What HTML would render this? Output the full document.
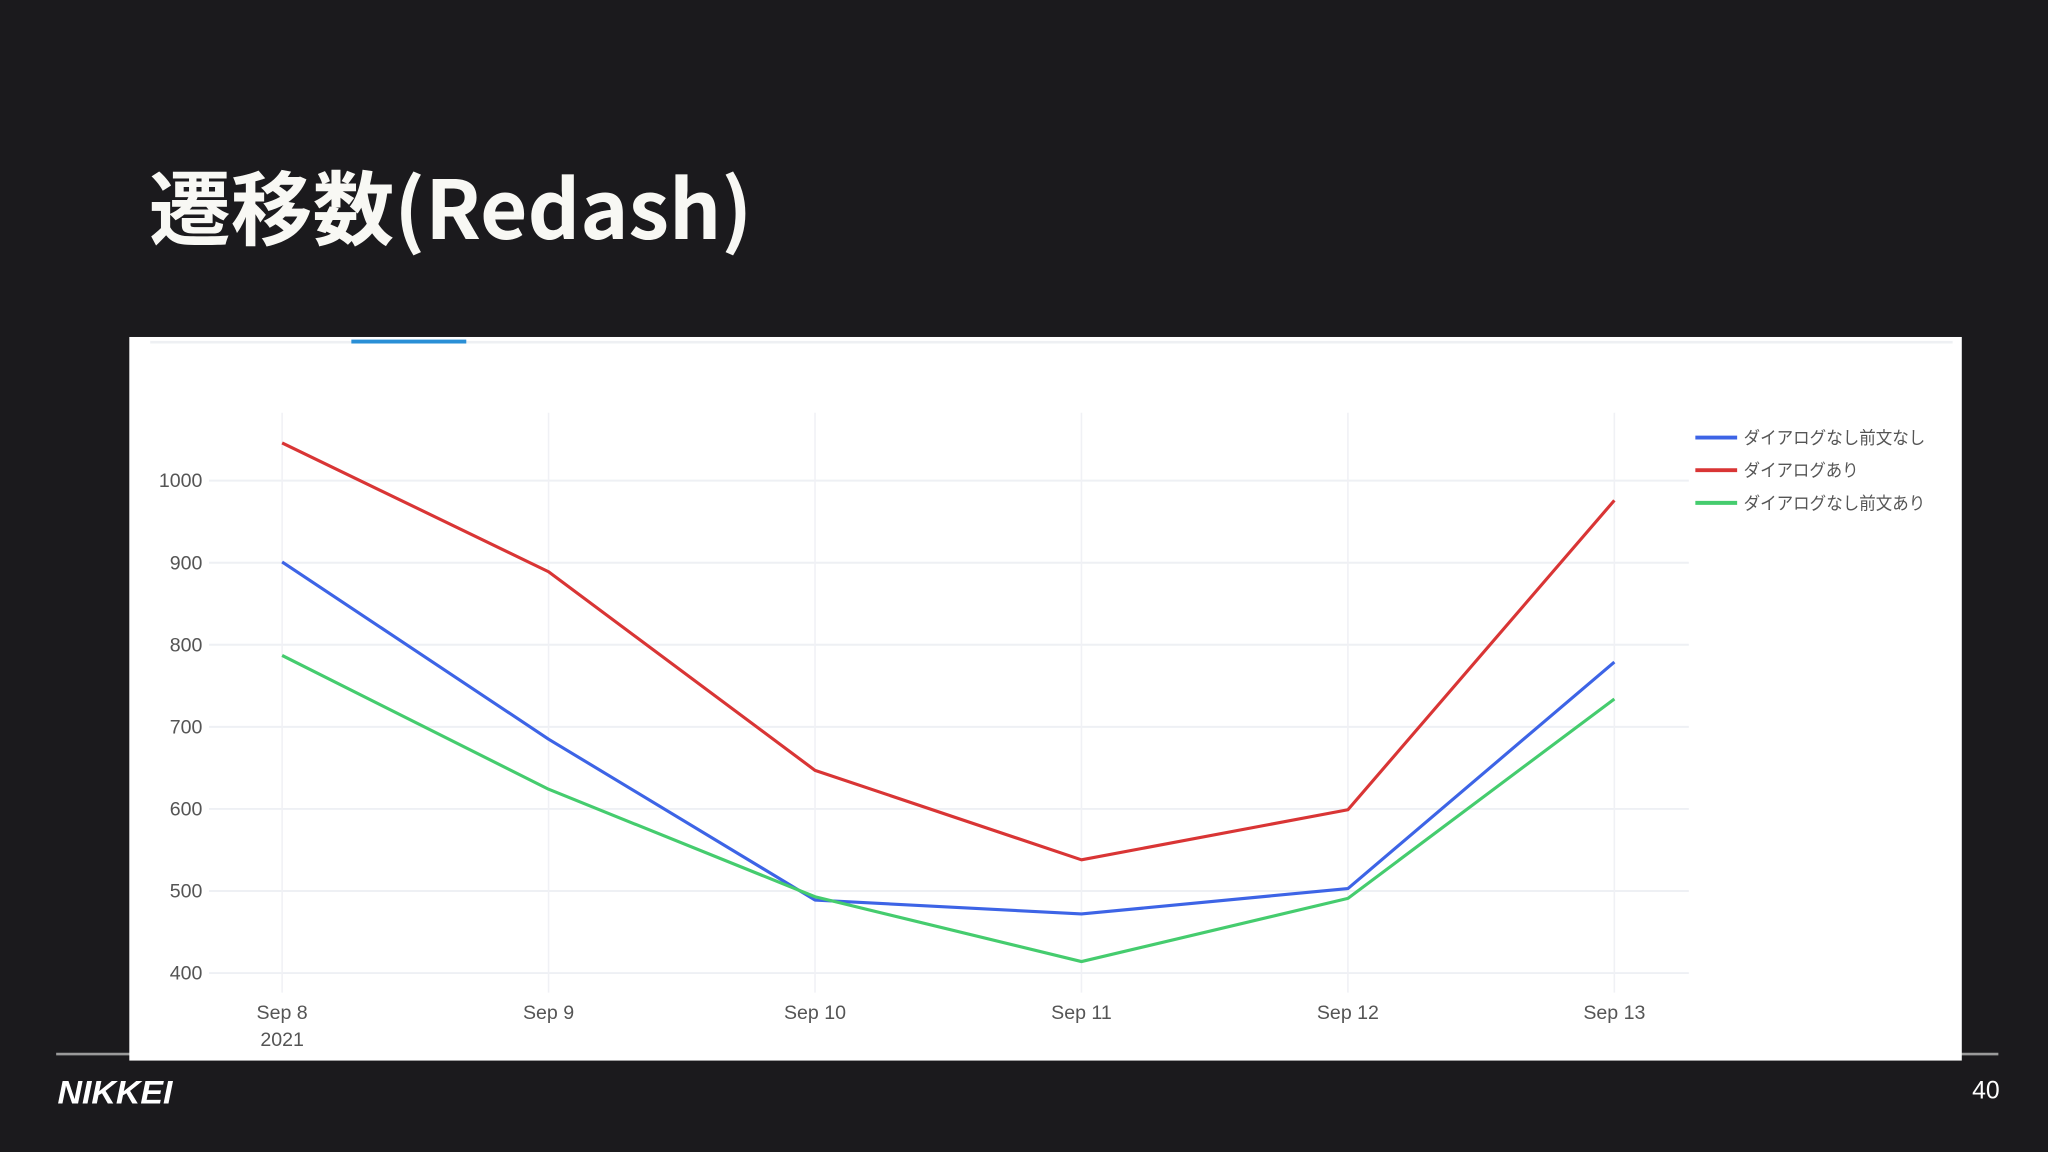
<!DOCTYPE html>
<html><head><meta charset="utf-8"><style>
html,body{margin:0;padding:0;background:#1b1a1d;}
svg{display:block;}
</style></head><body>
<svg id="page" width="2048" height="1152" viewBox="0 0 1568 882" xmlns="http://www.w3.org/2000/svg">
<rect x="0" y="0" width="1568" height="882" fill="#1b1a1d"/>
<text x="114" y="183" font-family="'Noto Sans CJK JP', sans-serif" font-weight="700" font-size="62" fill="#f8f8f4" textLength="462" lengthAdjust="spacingAndGlyphs">遷移数(Redash)</text>
<line x1="43" y1="807" x2="1530" y2="807" stroke="#9a9a9a" stroke-width="2"/>
<rect x="99" y="258" width="1403" height="554" fill="#ffffff"/>
<rect x="115" y="261" width="1380" height="2" fill="#eef0f3"/>
<rect x="269" y="260" width="88" height="3" fill="#2a8fd6"/>
<g id="grid"></g>
<g id="axes"></g>
<g id="series"></g>
<g id="legend"></g>
<text x="44" y="845" font-family="'Liberation Sans', sans-serif" font-weight="700" font-style="italic" font-size="25" fill="#ffffff" textLength="88" lengthAdjust="spacingAndGlyphs">NIKKEI</text>
<text x="1531" y="841" text-anchor="end" font-family="'Liberation Sans', sans-serif" font-size="19" fill="#ffffff">40</text>
</svg>
<script>
const categories = ['Sep 8','Sep 9','Sep 10','Sep 11','Sep 12','Sep 13'];
const yTicks = [400,500,600,700,800,900,1000];
const seriesNames = ['ダイアログなし前文なし','ダイアログあり','ダイアログなし前文あり'];
const seriesColors = ['#3d64e6','#d93535','#45cc6e'];
const blueValues = [901,685,489,472,503,779];
const redValues = [1046,889,647,538,599,976];
const greenValues = [787,624,493,414,491,734];

const NS='http://www.w3.org/2000/svg';
const X0=216, XSTEP=204, Y400=745, YPER=(745-368)/600;
function xPos(i){return X0+i*XSTEP;}
function yPos(v){return Y400-(v-400)*YPER;}
function mk(tag,attrs,parent){const e=document.createElementNS(NS,tag);for(const k in attrs)e.setAttribute(k,attrs[k]);parent.appendChild(e);return e;}
const grid=document.getElementById('grid'),axes=document.getElementById('axes'),ser=document.getElementById('series'),leg=document.getElementById('legend');
const font="'Liberation Sans', sans-serif";
yTicks.forEach(v=>{
  const l=mk('line',{x1:160,x2:1293,y1:yPos(v),y2:yPos(v),stroke:'#eef0f4','stroke-width':1.5},grid);
  
  
  const t=mk('text',{x:155,y:yPos(v)+5,'text-anchor':'end','font-family':font,'font-size':15,fill:'#555'},axes);
  t.textContent=v;
  
  
});
categories.forEach((c,i)=>{
  const l=mk('line',{x1:xPos(i),x2:xPos(i),y1:316,y2:760,stroke:'#f0f1f5','stroke-width':1.2},grid);
  
  
  const t=mk('text',{x:xPos(i),y:780,'text-anchor':'middle','font-family':font,'font-size':15,fill:'#555'},axes);
  t.textContent=c;
  
  
});
const yr=mk('text',{x:xPos(0),y:801,'text-anchor':'middle','font-family':font,'font-size':15,fill:'#555'},axes);
yr.textContent='2021';


const all=[blueValues,redValues,greenValues];
const snames=['series-blue','series-red','series-green'];
all.forEach((vals,s)=>{
  const pts=vals.map((v,i)=>xPos(i)+','+yPos(v)).join(' ');
  const p=mk('polyline',{points:pts,fill:'none',stroke:seriesColors[s],'stroke-width':2.4,'stroke-linejoin':'round'},ser);
  
  
});
const legendWidths=[139,88,139];
seriesNames.forEach((n,s)=>{
  const y=335+s*25;
  const g=mk('g',{},leg);
  
  
  mk('line',{x1:1298,x2:1330,y1:y,y2:y,stroke:seriesColors[s],'stroke-width':3},g);
  const t=mk('text',{x:1335,y:y+5,'font-family':"'Liberation Sans','Noto Sans CJK JP',sans-serif",'font-size':13.5,fill:'#555',textLength:legendWidths[s],lengthAdjust:'spacingAndGlyphs'},g);
  t.textContent=n;
});
</script>
</body></html>
